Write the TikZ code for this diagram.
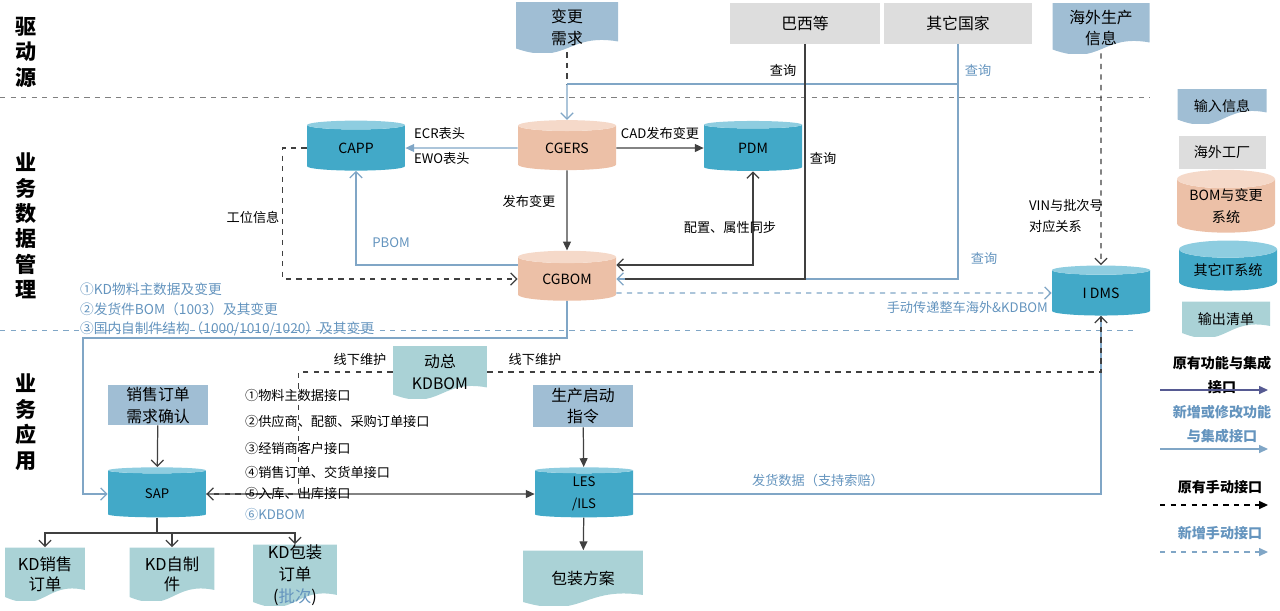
\documentclass[tikz,border=0pt]{standalone}
\usepackage{fontspec}
\setmainfont{Noto Sans CJK SC}
\usetikzlibrary{shapes.geometric, arrows.meta, positioning, calc}

\definecolor{inblue}{RGB}{160, 190, 212}
\definecolor{facgray}{RGB}{221, 221, 221}
\definecolor{bombody}{RGB}{236, 192, 167}
\definecolor{bomtop}{RGB}{245, 217, 201}
\definecolor{itbody}{RGB}{66, 169, 200}
\definecolor{ittop}{RGB}{142, 205, 224}
\definecolor{outteal}{RGB}{170, 210, 214}
\definecolor{lineblue}{RGB}{128, 166, 198}
\definecolor{textblue}{RGB}{100, 148, 190}
\definecolor{linegray}{RGB}{64, 64, 64}
\definecolor{legendline}{RGB}{86, 90, 146}

\tikzset{
  lbl/.style={font=\fontsize{7.5}{9}\selectfont, inner sep=1pt},
  bluelbl/.style={lbl, text=textblue},
  boxtext/.style={font=\fontsize{9}{12.5}\selectfont, align=center, inner sep=0pt},
  factbox/.style={boxtext, fill=facgray},
  inbox/.style={boxtext, fill=inblue},
  docshape/.style={boxtext, path picture={
      \path (path picture bounding box.south west) coordinate (dsw)
            (path picture bounding box.north east) coordinate (dne);
      \fill[#1] (dsw |- dne) -- (dne) -- ([yshift=6pt]dsw -| dne)
        .. controls ($(dsw)!0.5!(dsw -| dne)+(0,11pt)$) and ($(dsw)!0.5!(dsw -| dne)+(0,-8pt)$) .. ([yshift=2pt]dsw) -- cycle;}},
  indoc/.style={docshape=inblue},
  outdoc/.style={docshape=outteal},
  cyl/.style={cylinder, shape border rotate=90, aspect=0.25, cylinder uses custom fill,
    minimum width=1.96cm, minimum height=1cm, inner sep=0pt, align=center, font=\fontsize{8}{12.5}\selectfont},
  bomcyl/.style={cyl, cylinder body fill=bombody, cylinder end fill=bomtop},
  itcyl/.style={cyl, cylinder body fill=itbody, cylinder end fill=ittop},
  oldflow/.style={draw=linegray, line width=0.7pt},
  newflow/.style={draw=lineblue, line width=0.7pt},
  oldmanual/.style={draw=linegray, line width=0.7pt, dashed},
  newmanual/.style={draw=lineblue, line width=0.7pt, dashed},
  fillhead/.style={-{Triangle[length=5pt, width=4.5pt]}},
  openhead/.style={-{Straight Barb[length=3.5pt, width=7pt]}},
  zone/.style={font=\fontsize{12}{14.5}\selectfont\bfseries, align=center, inner sep=0pt},
  legend/.style={font=\fontsize{8}{14}\selectfont\bfseries, align=center, inner sep=0pt},
  sepline/.style={dashed, line width=0.5pt}
}

\begin{document}
\begin{tikzpicture}[x=0.02cm, y=-0.02cm]
  \useasboundingbox (0,0) rectangle (1280,610);

  % Zones
  \node[zone] (zdrive) at (26,52) {驱\\动\\源};
  \node[zone] (zdata) at (26,226) {业\\务\\数\\据\\管\\理};
  \node[zone] (zapp) at (26,422) {业\\务\\应\\用};
  \draw[sepline, gray] (0,97) -- (1150,97);
  \draw[sepline, lineblue] (0,330) -- (1135,330);

  % Drivers
  \node[indoc, minimum width=2.04cm, minimum height=1cm] (req) at (567,27) {变更\\需求};
  \node[factbox, minimum width=3cm, minimum height=0.82cm] (brazil) at (805,23) {巴西等};
  \node[factbox, minimum width=2.96cm, minimum height=0.82cm] (other) at (958,23) {其它国家};
  \node[indoc, minimum width=1.94cm, minimum height=1cm] (overseas) at (1101,28) {海外生产\\信息};
  \coordinate (qjoin) at (567,84);

  % Data systems
  \node[itcyl] (capp) at (356,148) {CAPP};
  \node[bomcyl] (cgers) at (567,148) {CGERS};
  \node[itcyl] (pdm) at (753,148) {PDM};
  \node[bomcyl] (cgbom) at (567,279) {CGBOM};
  \node[itcyl] (idms) at (1101,293) {I DMS};

  \draw[oldmanual] (req) -- (qjoin);
  \draw[newflow] (other.south |- qjoin) -- (qjoin);
  \draw[newflow, openhead] (qjoin) -- (cgers);
  \draw[newflow, openhead] (other.south) |- (cgbom.east);
  \draw[oldflow] (brazil.south) |- ([xshift=5pt]cgbom.east);
  \node[lbl] (q1) at (783,70) {查询};
  \node[bluelbl] (q2) at (978,70) {查询};
  \node[lbl] (q3) at (823,158) {查询};
  \node[bluelbl] (q4) at (984,258) {查询};

  \draw[newflow, fillhead] (cgers) -- (capp);
  \node[lbl, anchor=west] (ecr) at (412,133) {ECR表头};
  \node[lbl, anchor=west] (ewo) at (412,158) {EWO表头};
  \draw[oldflow, fillhead] (cgers) -- (pdm);
  \node[lbl] (cad) at (660,133) {CAD发布变更};
  \draw[oldflow, fillhead] (cgers) -- (cgbom);
  \node[lbl] (rel) at (529,201) {发布变更};
  \draw[oldflow, {Straight Barb[length=3.5pt, width=7pt]}-{Straight Barb[length=3.5pt, width=7pt]}] ([yshift=8pt]cgbom.east) -| (pdm.south);
  \node[lbl] (sync) at (730,227) {配置、属性同步};

  \draw[oldmanual, openhead] (capp.west) -- ++(-24,0) |- (cgbom.west);
  \node[lbl] (station) at (253,217) {工位信息};
  \draw[newflow, openhead] ([yshift=8pt]cgbom.west) -| (capp.south);
  \node[bluelbl] (pbom) at (391,243) {PBOM};

  \draw[newmanual, openhead] ([yshift=-8pt]cgbom.east) -- (idms.west);
  \node[bluelbl, anchor=east] (manual) at (1050,307) {手动传递整车海外\&KDBOM};
  \draw[oldmanual, openhead] (overseas) -- (idms);
  \node[lbl, align=left, anchor=west, font=\fontsize{7.5}{12}\selectfont] (vin) at (1027,216) {VIN与批次号\\对应关系};

  \node[bluelbl, anchor=north west, align=left, font=\fontsize{7.8}{11}\selectfont] (kdlist) at (78,281)
    {①KD物料主数据及变更\\②发货件BOM（1003）及其变更\\③国内自制件结构（1000/1010/1020）及其变更};

  % Applications
  \node[outdoc, minimum width=1.88cm, minimum height=1.04cm] (kdbom) at (440,372) {动总\\KDBOM};
  \node[inbox, minimum width=2cm, minimum height=0.8cm] (soreq) at (158,405) {销售订单\\需求确认};
  \node[inbox, minimum width=2cm, minimum height=0.84cm] (prodcmd) at (583,406) {生产启动\\指令};
  \node[itcyl, font=\fontsize{7.5}{12.5}\selectfont] (sap) at (157,494) {SAP};
  \node[itcyl, font=\fontsize{7.5}{12.5}\selectfont] (les) at (584,494) {LES\\/ILS};

  \node[outdoc, minimum width=1.6cm, minimum height=1.06cm, font=\fontsize{9.3}{11.5}\selectfont] (kdso) at (45,574) {KD销售\\订单};
  \node[outdoc, minimum width=1.7cm, minimum height=1.06cm, font=\fontsize{9.3}{11.5}\selectfont] (kdself) at (172,574) {KD自制\\件};
  \node[outdoc, minimum width=1.68cm, minimum height=1.12cm, font=\fontsize{9.3}{12.5}\selectfont] (kdpack) at (295,575) {KD包装\\订单\\(\textcolor{textblue}{批次})};
  \node[outdoc, minimum width=2.4cm, minimum height=1.1cm] (pack) at (583,578) {包装方案};

  \draw[newflow, openhead] (cgbom.south) |- (83,338) |- (sap.west);
  \draw[oldflow, openhead] (soreq) -- (sap);
  \coordinate (fork) at (157,533);
  \draw[oldflow] (sap.south) -- (fork);
  \draw[oldflow, openhead] (fork) -| (kdso);
  \draw[oldflow, openhead] (fork) -| (kdself);
  \draw[oldflow, openhead] (fork) -| (kdpack);

  \draw[oldflow, fillhead] (sap) -- (les);
  \draw[oldmanual, openhead] (kdbom.west) -- ++(-94,0) |- (sap.east);
  \node[lbl] (off1) at (360,359) {线下维护};
  \draw[newflow] (les.east) -| (idms.south);
  \draw[oldmanual, openhead] (kdbom.east) -| (idms.south);
  \node[lbl] (off2) at (535,359) {线下维护};
  \node[bluelbl] (ship) at (818,480) {发货数据（支持索赔）};
  \draw[oldflow, fillhead] (prodcmd) -- (les);
  \draw[oldflow, fillhead] (les) -- (pack);

  \node[lbl, anchor=west] (if1) at (243,395) {①物料主数据接口};
  \node[lbl, anchor=west] (if2) at (243,421) {②供应商、配额、采购订单接口};
  \node[lbl, anchor=west] (if3) at (243,448) {③经销商客户接口};
  \node[lbl, anchor=west] (if4) at (243,472) {④销售订单、交货单接口};
  \node[lbl, anchor=west] (if5) at (243,493) {⑤入库、出库接口};
  \node[bluelbl, anchor=west] (if6) at (243,514) {⑥KDBOM};

  % Legend
  \node[indoc, font=\fontsize{8}{11}\selectfont, minimum width=1.78cm, minimum height=0.68cm] (lgin) at (1222,106) {输入信息};
  \node[factbox, font=\fontsize{8}{11}\selectfont, minimum width=1.74cm, minimum height=0.66cm] (lgfac) at (1222,152) {海外工厂};
  \node[bomcyl, minimum height=1.04cm] (lgbom) at (1226,206) {BOM与变更\\系统};
  \node[itcyl] (lgit) at (1228,270) {其它IT系统};
  \node[outdoc, font=\fontsize{8}{11}\selectfont, minimum width=1.76cm, minimum height=0.7cm] (lgout) at (1226,319) {输出清单};

  \node[legend] (lgold) at (1222,375) {原有功能与集成\\接口};
  \coordinate (lgoldA) at (1160,390);
  \coordinate (lgoldB) at (1268,390);
  \draw[legendline, line width=0.7pt, fillhead] (lgoldA) -- (lgoldB);
  \node[legend, text=textblue] (lgnew) at (1222,424) {新增或修改功能\\与集成接口};
  \coordinate (lgnewA) at (1160,449);
  \coordinate (lgnewB) at (1268,449);
  \draw[newflow, fillhead] (lgnewA) -- (lgnewB);
  \node[legend] (lgoldm) at (1220,487) {原有手动接口};
  \coordinate (lgoldmA) at (1160,505);
  \coordinate (lgoldmB) at (1268,505);
  \draw[oldmanual, draw=black, fillhead] (lgoldmA) -- (lgoldmB);
  \node[legend, text=textblue] (lgnewm) at (1220,533) {新增手动接口};
  \coordinate (lgnewmA) at (1160,552);
  \coordinate (lgnewmB) at (1268,552);
  \draw[newmanual, fillhead] (lgnewmA) -- (lgnewmB);
\end{tikzpicture}
\end{document}
